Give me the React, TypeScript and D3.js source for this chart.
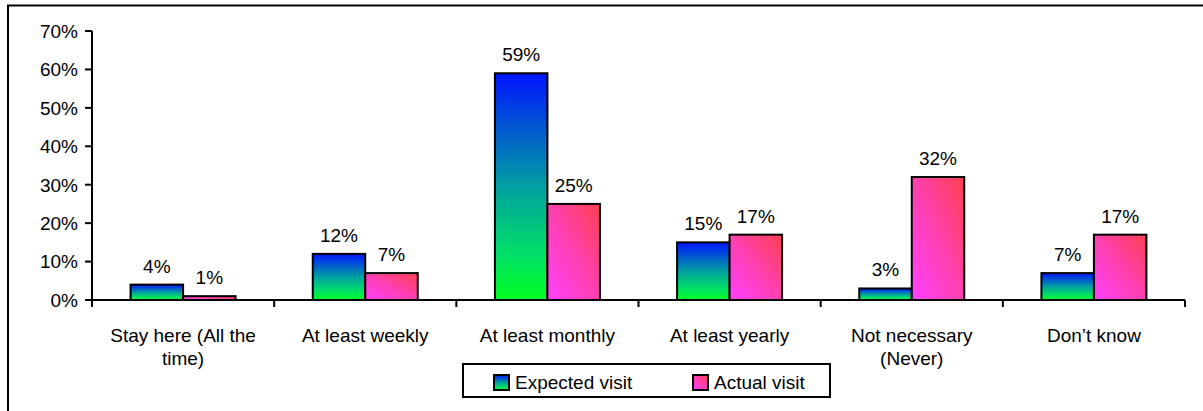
import React from "react";
import * as d3 from "d3";

const categories: string[][] = [
  ["Stay here (All the", "time)"],
  ["At least weekly"],
  ["At least monthly"],
  ["At least yearly"],
  ["Not necessary", "(Never)"],
  ["Don\u2019t know"],
];
const expectedVisit = [4, 12, 59, 15, 3, 7];
const actualVisit = [1, 7, 25, 17, 32, 17];
const yTicks = [0, 10, 20, 30, 40, 50, 60, 70];
const seriesNames = ["Expected visit", "Actual visit"];

const W = 1203;
const H = 411;
const FONT = "'Liberation Sans', Arial, sans-serif";

export default function App() {
  const x0 = 92;
  const x1 = 1185;
  const yBase = 300;
  const yTop = 31;
  const y = d3.scaleLinear().domain([0, 70]).range([yBase, yTop]);
  const xBand = d3
    .scaleBand<number>()
    .domain(categories.map((_, i) => i))
    .range([x0, x1])
    .padding(0);
  const inner = d3
    .scaleBand<string>()
    .domain(["e", "a"])
    .range([0, xBand.bandwidth()])
    .paddingInner(0)
    .paddingOuter(0.735);
  const bw = inner.bandwidth();

  const series = [
    { key: "e", vals: expectedVisit, fill: "url(#gradExp)" },
    { key: "a", vals: actualVisit, fill: "url(#gradAct)" },
  ];

  return (
    <svg
      width={W}
      height={H}
      style={{ position: "absolute", left: 0, top: 0, display: "block" }}
      fontFamily={FONT}
    >
      <defs>
        <linearGradient id="gradExp" x1="0" y1="0" x2="0" y2="1">
          <stop offset="0" stopColor="#0014ff" />
          <stop offset="0.5" stopColor="#00a0a0" />
          <stop offset="0.8" stopColor="#00e068" />
          <stop offset="1" stopColor="#00ff22" />
        </linearGradient>
        <linearGradient id="gradAct" x1="0" y1="1" x2="1" y2="0">
          <stop offset="0" stopColor="#ff40ff" />
          <stop offset="0.5" stopColor="#ff40b0" />
          <stop offset="1" stopColor="#ff4050" />
        </linearGradient>
      </defs>
      <rect x={0} y={0} width={W} height={H} fill="#fff" />
      {/* outer frame */}
      <rect x={8} y={5.5} width={1400} height={600} fill="none" stroke="#000" strokeWidth={2} />

      {/* y axis */}
      <line x1={x0} x2={x0} y1={y(70)} y2={yBase + 7} stroke="#000" strokeWidth={2} />
      {yTicks.map((t) => (
        <g key={t}>
          <line x1={x0 - 7} x2={x0} y1={y(t)} y2={y(t)} stroke="#000" strokeWidth={2} />
          <text x={x0 - 14} y={y(t)} dy="0.36em" textAnchor="end" fontSize={19} fill="#000">
            {t}%
          </text>
        </g>
      ))}

      {/* bars */}
      {series.map((s) =>
        s.vals.map((v, i) => {
          const bx = (xBand(i) as number) + (inner(s.key) as number);
          return (
            <rect
              key={s.key + i}
              x={bx}
              y={y(v)}
              width={bw}
              height={yBase - y(v)}
              fill={s.fill}
              stroke="#000"
              strokeWidth={2}
            />
          );
        })
      )}
      {/* value labels */}
      {series.map((s) =>
        s.vals.map((v, i) => {
          const cx = (xBand(i) as number) + (inner(s.key) as number) + bw / 2;
          return (
            <text
              key={"l" + s.key + i}
              x={cx}
              y={y(v) - 12}
              textAnchor="middle"
              fontSize={19}
              fill="#000"
            >
              {v}%
            </text>
          );
        })
      )}

      {/* x axis */}
      <line x1={x0} x2={x1} y1={yBase} y2={yBase} stroke="#000" strokeWidth={2} />
      {categories.map((_, i) => (
        <line
          key={"t" + i}
          x1={(xBand(i) as number) + xBand.bandwidth()}
          x2={(xBand(i) as number) + xBand.bandwidth()}
          y1={yBase}
          y2={yBase + 7}
          stroke="#000"
          strokeWidth={2}
        />
      ))}
      {categories.map((lines, i) => (
        <text
          key={"c" + i}
          x={(xBand(i) as number) + xBand.bandwidth() / 2}
          y={342}
          textAnchor="middle"
          fontSize={19}
          fill="#000"
        >
          {lines.map((ln, j) => (
            <tspan key={j} x={(xBand(i) as number) + xBand.bandwidth() / 2} dy={j === 0 ? 0 : 23}>
              {ln}
            </tspan>
          ))}
        </text>
      ))}

      {/* legend */}
      <rect x={463} y={364} width={367} height={33} fill="#fff" stroke="#000" strokeWidth={2} />
      <rect x={494} y={375} width={15} height={15} fill="url(#gradExp)" stroke="#000" strokeWidth={2} />
      <text x={515} y={389} fontSize={19} fill="#000">
        {seriesNames[0]}
      </text>
      <rect x={693} y={375} width={15} height={15} fill="url(#gradAct)" stroke="#000" strokeWidth={2} />
      <text x={714} y={389} fontSize={19} fill="#000">
        {seriesNames[1]}
      </text>
    </svg>
  );
}
